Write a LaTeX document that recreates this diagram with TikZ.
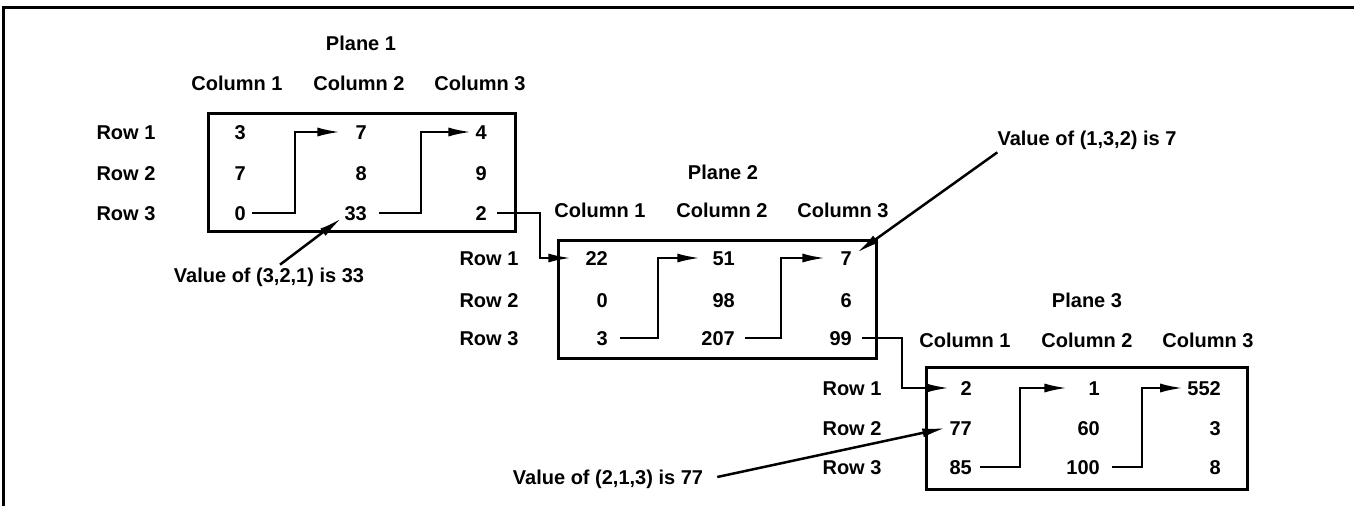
\documentclass[tikz,border=0pt]{standalone}
\usepackage{fontspec}
\setmainfont{Liberation Sans}
\usetikzlibrary{arrows.meta}
\tikzset{
  txt/.style={font=\bfseries\fontsize{20}{24}\selectfont, inner sep=0pt, text height=14.3pt, text depth=0pt},
  val/.style={txt, anchor=east},
  boxline/.style={line width=3pt},
  conn/.style={line width=2.5pt},
  arr/.style={conn, -{Latex[length=23pt,width=9pt]}},
}
\begin{document}
\begin{tikzpicture}[x=1pt,y=-1pt]
\useasboundingbox (0,0) rectangle (1354,506);
% outer frame (top and left)
\draw[boxline] (3,506) -- (3,7) -- (1354,7);

% ---------- Plane 1 ----------
\node[txt] (pl1) at (361,43) {Plane 1};
\node[txt] (p1h1) at (237,83) {Column 1};
\node[txt] (p1h2) at (359,83) {Column 2};
\node[txt] (p1h3) at (480,83) {Column 3};
\node[txt] (p1w1) at (126,132) {Row 1};
\node[txt] (p1w2) at (126,173) {Row 2};
\node[txt] (p1w3) at (126,213) {Row 3};
\draw[boxline] (208,113) rectangle (515,231);
\node[val] (p1r1c1) at (246,132) {3};
\node[val] (p1r2c1) at (246,173) {7};
\node[val] (p1r3c1) at (246,213) {0};
\node[val] (p1r1c2) at (367,132) {7};
\node[val] (p1r2c2) at (367,173) {8};
\node[val] (p1r3c2) at (367,213) {33};
\node[val] (p1r1c3) at (487,132) {4};
\node[val] (p1r2c3) at (487,173) {9};
\node[val] (p1r3c3) at (487,213) {2};

% ---------- Plane 2 ----------
\node[txt] (pl2) at (723,172) {Plane 2};
\node[txt] (p2h1) at (600,210) {Column 1};
\node[txt] (p2h2) at (722,210) {Column 2};
\node[txt] (p2h3) at (843,210) {Column 3};
\node[txt] (p2w1) at (489,258) {Row 1};
\node[txt] (p2w2) at (489,300) {Row 2};
\node[txt] (p2w3) at (489,338) {Row 3};
\draw[boxline] (558,240) rectangle (876,358);
\node[val] (p2r1c1) at (608,258) {22};
\node[val] (p2r2c1) at (608,300) {0};
\node[val] (p2r3c1) at (608,338) {3};
\node[val] (p2r1c2) at (735,258) {51};
\node[val] (p2r2c2) at (735,300) {98};
\node[val] (p2r3c2) at (735,338) {207};
\node[val] (p2r1c3) at (852,258) {7};
\node[val] (p2r2c3) at (852,300) {6};
\node[val] (p2r3c3) at (852,338) {99};

% ---------- Plane 3 ----------
\node[txt] (pl3) at (1087,300) {Plane 3};
\node[txt] (p3h1) at (965,340) {Column 1};
\node[txt] (p3h2) at (1087,340) {Column 2};
\node[txt] (p3h3) at (1208,340) {Column 3};
\node[txt] (p3w1) at (852,388) {Row 1};
\node[txt] (p3w2) at (852,428) {Row 2};
\node[txt] (p3w3) at (852,467) {Row 3};
\draw[boxline] (926,367) rectangle (1247,489);
\node[val] (p3r1c1) at (972,388) {2};
\node[val] (p3r2c1) at (972,428) {77};
\node[val] (p3r3c1) at (972,467) {85};
\node[val] (p3r1c2) at (1100,388) {1};
\node[val] (p3r2c2) at (1100,428) {60};
\node[val] (p3r3c2) at (1100,467) {100};
\node[val] (p3r1c3) at (1221,388) {552};
\node[val] (p3r2c3) at (1221,428) {3};
\node[val] (p3r3c3) at (1221,467) {8};

% ---------- storage-order connectors ----------
\draw[arr] ([xshift=6pt]p1r3c1.east) -- ++(43,0) |- ([xshift=-15pt]p1r1c2.west);
\draw[arr] ([xshift=12pt]p1r3c2.east) -- ++(42,0) |- ([xshift=-4pt]p1r1c3.west);
\draw[arr] ([xshift=10pt]p1r3c3.east) -- ++(43,0) |- ([xshift=-14pt]p2r1c1.west);
\draw[arr] ([xshift=12pt]p2r3c1.east) -- ++(38,0) |- ([xshift=-12pt]p2r1c2.west);
\draw[arr] ([xshift=10pt]p2r3c2.east) -- ++(36,0) |- ([xshift=-15pt]p2r1c3.west);
\draw[arr] ([xshift=10pt]p2r3c3.east) -- ++(40,0) |- ([xshift=-11pt]p3r1c1.west);
\draw[arr] ([xshift=8pt]p3r3c1.east) -- ++(40,0) |- ([xshift=-21pt]p3r1c2.west);
\draw[arr] ([xshift=12pt]p3r3c2.east) -- ++(30,0) |- ([xshift=-4pt]p3r1c3.west);

% ---------- annotations ----------
\node[txt] (lab1) at (269,275) {Value of (3,2,1) is 33};
\node[txt] (lab2) at (608,477) {Value of (2,1,3) is 77};
\node[txt] (lab3) at (1087,138) {Value of (1,3,2) is 7};
\draw[arr] ([xshift=11pt,yshift=3pt]lab1.north) -- ([xshift=-3pt,yshift=2pt]p1r3c2.south west);
\draw[arr] ([xshift=14pt]lab2.east) -- ([xshift=-4pt]p3r2c1.west);
\draw[arr] ([yshift=-7pt]lab3.south west) -- ([xshift=5pt,yshift=-2pt]p2r1c3.north east);
\end{tikzpicture}
\end{document}
